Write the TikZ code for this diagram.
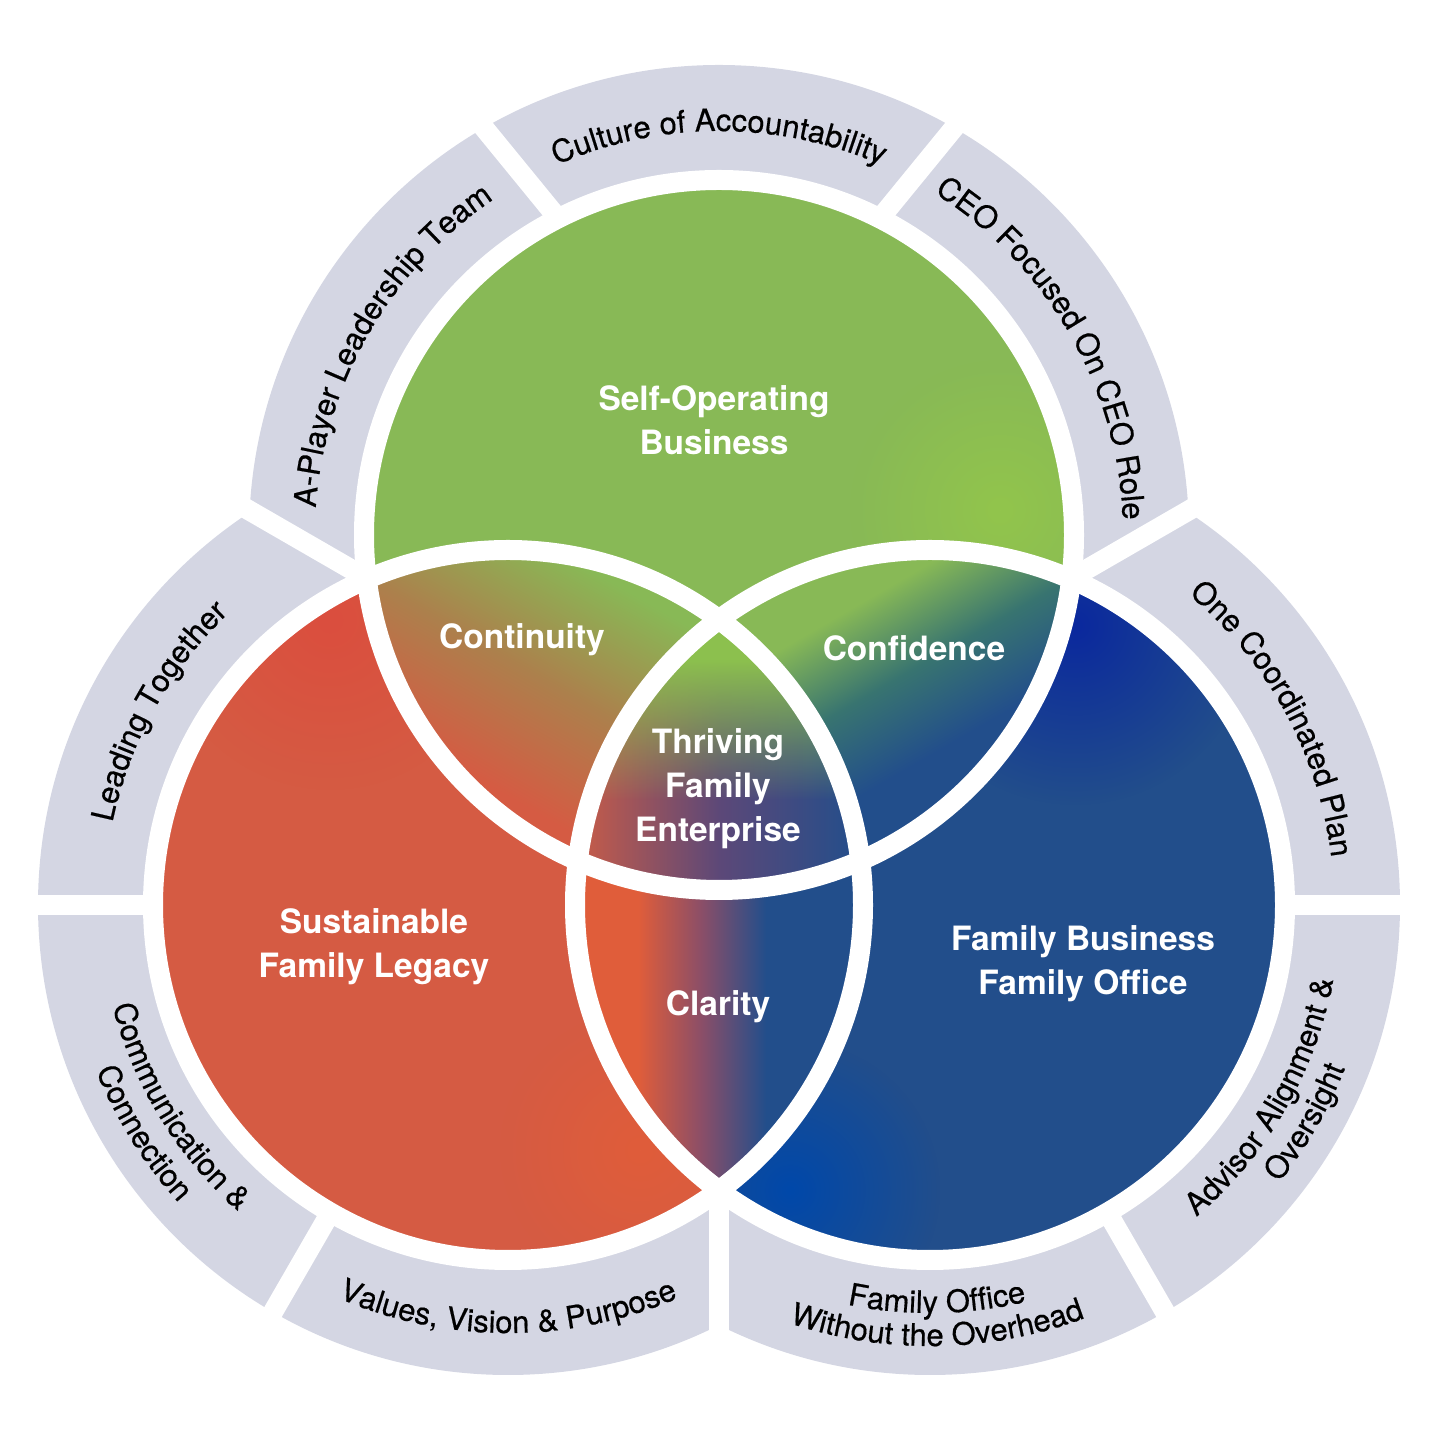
\documentclass[tikz,border=0pt]{standalone}
\usepackage{fontspec}
\setmainfont{TeX Gyre Heros}
\newfontfamily\ringfont{TeX Gyre Heros}[FakeBold=0.5]
\usetikzlibrary{decorations.text,fadings}

\definecolor{cgray}{RGB}{212,214,227}
\definecolor{cgreen}{RGB}{136,185,86}
\definecolor{cgreenlt}{RGB}{146,197,76}
\definecolor{cgreentop}{RGB}{140,192,78}
\definecolor{cred}{RGB}{213,91,67}
\definecolor{credlt}{RGB}{219,78,62}
\definecolor{corange}{RGB}{224,93,58}
\definecolor{cblue}{RGB}{34,78,139}
\definecolor{cbluev}{RGB}{10,40,158}
\definecolor{cblueb}{RGB}{0,72,170}
\definecolor{colive}{RGB}{172,128,76}
\definecolor{cteal}{RGB}{56,116,112}
\definecolor{cpurple}{RGB}{138,78,104}
\definecolor{cpurple2}{RGB}{92,72,120}
\definecolor{cbrick}{RGB}{200,92,72}

\pgfdeclareverticalshading{shcont}{100bp}{color(0bp)=(cred); color(40bp)=(cred); color(50bp)=(colive); color(60bp)=(cgreen); color(100bp)=(cgreen)}
\pgfdeclareverticalshading{shconf}{100bp}{color(0bp)=(cblue); color(43bp)=(cblue); color(50bp)=(cteal); color(57bp)=(cgreen); color(100bp)=(cgreen)}
\pgfdeclarehorizontalshading{shclar}{100bp}{color(0bp)=(corange); color(42bp)=(corange); color(50bp)=(cpurple); color(58bp)=(cblue); color(100bp)=(cblue)}
\pgfdeclarehorizontalshading{shcent}{100bp}{color(0bp)=(cbrick); color(25bp)=(cbrick); color(50bp)=(cpurple2); color(75bp)=(cblue); color(100bp)=(cblue)}
\tikzfading[name=fadedown, top color=transparent!0, bottom color=transparent!100]
\tikzfading[name=spotfade, inner color=transparent!0, outer color=transparent!100]

\newcommand{\gtxt}{\ringfont\fontsize{31}{37}\selectfont}

\begin{document}
\begin{tikzpicture}[x=1pt,y=1pt,
  gapline/.style={white, line width=20pt},
  ring/.style={cgray, even odd rule},
  rim/.style={white, line width=20pt},
  lab/.style={text=white, font=\fontsize{33.5}{44}\selectfont\bfseries, align=center, inner sep=0pt},
  arctext/.style={decorate, decoration={text along path, text align=center, text={|\gtxt|#1}}}]
\useasboundingbox (0,0) rectangle (1440,1440);
\coordinate (G) at (719,905);
\coordinate (R) at (508,535);
\coordinate (B) at (930,535);
\coordinate (O) at (719,658.33);

% ---- gray rings ----
\begin{scope}
  \clip (O) -- ([shift={(O)}]30:900) -- ([shift={(O)}]90:900) -- ([shift={(O)}]150:900) -- cycle;
  \fill[ring] (G) circle[radius=470] (G) circle[radius=350];
\end{scope}
\begin{scope}
  \clip (O) -- ([shift={(O)}]150:900) -- ([shift={(O)}]210:900) -- ([shift={(O)}]270:900) -- cycle;
  \fill[ring] (R) circle[radius=470] (R) circle[radius=350];
\end{scope}
\begin{scope}
  \clip (O) -- ([shift={(O)}]270:900) -- ([shift={(O)}]330:900) -- ([shift={(O)}]30:900) -- cycle;
  \fill[ring] (B) circle[radius=470] (B) circle[radius=350];
\end{scope}

% ---- gaps ----
\draw[gapline] (O) -- ([shift={(O)}]30:700);
\draw[gapline] (O) -- ([shift={(O)}]150:700);
\draw[gapline] (O) -- ([shift={(O)}]270:660);
\draw[gapline] (R) -- ([shift={(R)}]180:500);
\draw[gapline] (R) -- ([shift={(R)}]240:500);
\draw[gapline] (B) -- ([shift={(B)}]0:500);
\draw[gapline] (B) -- ([shift={(B)}]300:500);
\coordinate (gl1) at (457.7,1344.3);
\coordinate (gl2) at (601.2,1168.7);
\coordinate (gr1) at (980.3,1344.3);
\coordinate (gr2) at (836.8,1168.7);
\draw[gapline] (gl1) -- (gl2);
\draw[gapline] (gr1) -- (gr2);

% ---- circle bases ----
\fill[cred] (R) circle[radius=355];
\fill[cblue] (B) circle[radius=355];
\fill[cgreen] (G) circle[radius=355];
\begin{scope}
  \clip (B) circle[radius=355];
  \fill[cbluev, path fading=spotfade] (1075,815) circle[radius=180];
  \fill[cblueb, path fading=spotfade] (790,250) circle[radius=150];
\end{scope}
\begin{scope}
  \clip (G) circle[radius=355];
  \fill[cgreenlt, path fading=spotfade] (1000,930) circle[radius=150];
\end{scope}
\begin{scope}
  \clip (R) circle[radius=355];
  \fill[credlt, path fading=spotfade] (330,820) circle[radius=170];
  \fill[corange, path fading=spotfade] (640,290) circle[radius=140];
\end{scope}

% ---- Continuity lens ----
\begin{scope}
  \clip (G) circle[radius=355];
  \clip (R) circle[radius=355];
  \shade[shading=shcont, shading angle=-30] (313.5,420) rectangle (913.5,1020);
\end{scope}
% ---- Confidence lens ----
\begin{scope}
  \clip (G) circle[radius=355];
  \clip (B) circle[radius=355];
  \shade[shading=shconf, shading angle=30] (524.5,420) rectangle (1124.5,1020);
\end{scope}
% ---- Clarity lens ----
\begin{scope}
  \clip (R) circle[radius=355];
  \clip (B) circle[radius=355];
  \shade[shading=shclar] (502,240) rectangle (902,830);
\end{scope}
% ---- Center ----
\begin{scope}
  \clip (G) circle[radius=355];
  \clip (R) circle[radius=355];
  \clip (B) circle[radius=355];
  \shade[shading=shcent] (578,540) rectangle (861,830);
  \fill[cgreentop] (560,780) rectangle (880,830);
  \fill[cgreentop, path fading=fadedown] (560,640) rectangle (880,780);
\end{scope}

% ---- white rims ----
\draw[rim] (R) circle[radius=355];
\draw[rim] (B) circle[radius=355];
\draw[rim] (G) circle[radius=355];

% ---- circle labels ----
\node[lab] (sob) at (714,1020) {Self-Operating\\Business};
\node[lab] (cont) at (522,800) {Continuity};
\node[lab] (conf) at (914,792) {Confidence};
\node[lab] (thr) at (718,651) {Thriving\\Family\\Enterprise};
\node[lab] (sfl) at (374,493) {Sustainable\\Family Legacy};
\node[lab] (clar) at (718,433) {Clarity};
\node[lab] (fbfo) at (1083,476) {Family Business\\Family Office};

% ---- ring texts ----
\path[arctext={A-Player Leadership Team}] ([shift={(G)}]195:404) arc[start angle=195, end angle=105, radius=404];
\path[arctext={Culture of Accountability}] ([shift={(G)}]135:404) arc[start angle=135, end angle=45, radius=404];
\path[arctext={CEO Focused On CEO Role}] ([shift={(G)}]75:404) arc[start angle=75, end angle=-15, radius=404];
\path[arctext={Leading Together}] ([shift={(R)}]196:404) arc[start angle=196, end angle=106, radius=404];
\path[arctext={Communication {\&}}] ([shift={(R)}]166.5:408) arc[start angle=166.5, end angle=256.5, radius=408];
\path[arctext={Connection}] ([shift={(R)}]167:444) arc[start angle=167, end angle=257, radius=444];
\path[arctext={Values, Vision {\&} Purpose}] ([shift={(R)}]225:428) arc[start angle=225, end angle=315, radius=428];
\path[arctext={One Coordinated Plan}] ([shift={(B)}]73.5:404) arc[start angle=73.5, end angle=-16.5, radius=404];
\path[arctext={Advisor Alignment {\&}}] ([shift={(B)}]285:410) arc[start angle=285, end angle=375, radius=410];
\path[arctext={Oversight}] ([shift={(B)}]285:446) arc[start angle=285, end angle=375, radius=446];
\path[arctext={Family Office}] ([shift={(B)}]226:408) arc[start angle=226, end angle=316, radius=408];
\path[arctext={Without the Overhead}] ([shift={(B)}]226:441) arc[start angle=226, end angle=316, radius=441];
\end{tikzpicture}
\end{document}
